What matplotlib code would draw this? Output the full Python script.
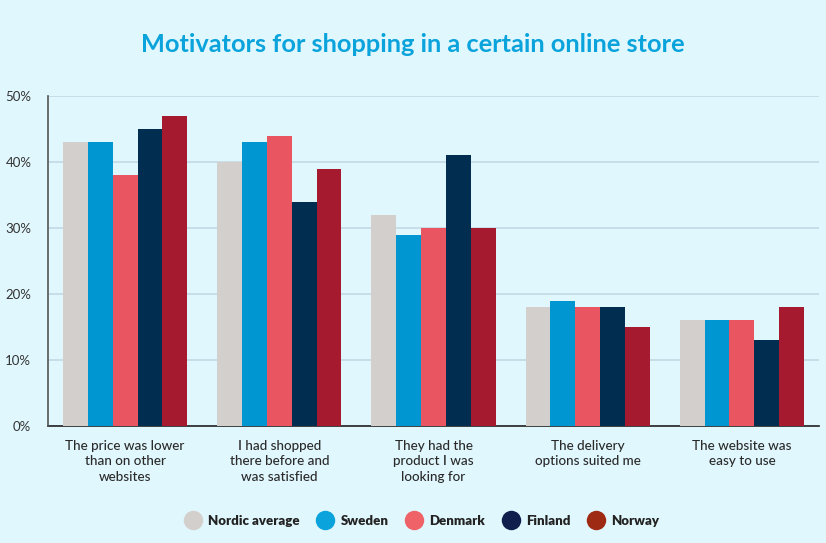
import matplotlib
matplotlib.use("Agg")
import matplotlib.pyplot as plt
import numpy as np
from matplotlib.lines import Line2D

categories = [
    "The price was lower\nthan on other\nwebsites",
    "I had shopped\nthere before and\nwas satisfied",
    "They had the\nproduct I was\nlooking for",
    "The delivery\noptions suited me",
    "The website was\neasy to use",
]
series_names = ["Nordic average", "Sweden", "Denmark", "Finland", "Norway"]
nordic = [43, 40, 32, 18, 16]
sweden = [43, 43, 29, 19, 16]
denmark = [38, 44, 30, 18, 16]
finland = [45, 34, 41, 18, 13]
norway = [47, 39, 30, 15, 18]
yticks = [0, 10, 20, 30, 40, 50]
ytick_labels = ["0%", "10%", "20%", "30%", "40%", "50%"]

bar_colors = ["#D3CFCC", "#0096D2", "#E95661", "#002D50", "#A51A2F"]
legend_colors = ["#D3CFCC", "#0AA3DC", "#EE6268", "#0F1E4D", "#9E2A14"]
bg = "#E0F7FD"
font = "Lato"

fig = plt.figure(figsize=(8.26, 5.43), dpi=100, facecolor=bg)
ax = fig.add_axes([48/826, 1-426/543, (819-48)/826, (426-96)/543])
ax.set_facecolor(bg)

data = [nordic, sweden, denmark, finland, norway]
x = np.arange(len(categories))
w = 0.161
for i, vals in enumerate(data):
    ax.bar(x + (i-2)*w, vals, width=w, color=bar_colors[i], zorder=3, linewidth=0)

ax.set_xlim(-0.5, 4.5)
ax.set_ylim(0, 50)
ax.set_yticks(yticks)
ax.set_yticklabels(ytick_labels, fontsize=9.5, color="#333333", family=font)
ax.set_xticks(x)
ax.set_xticklabels(categories, fontsize=9.7, color="#2a2a2a", family=font,
                   linespacing=1.35, va="top", fontweight="medium")
ax.tick_params(axis="both", length=0)
ax.tick_params(axis="x", pad=10)
ax.tick_params(axis="y", pad=12)
ax.grid(axis="y", color="#C3DAE4", linewidth=1.2, zorder=0)
for s in ["top", "right"]:
    ax.spines[s].set_visible(False)
ax.spines["left"].set_color("#555555")
ax.spines["left"].set_linewidth(1.2)
ax.spines["bottom"].set_color("#222222")
ax.spines["bottom"].set_linewidth(1.2)
ax.spines["bottom"].set_zorder(2)

fig.text(0.5, 1-44/543, "Motivators for shopping in a certain online store",
         ha="center", va="center", fontsize=18.3, fontweight="bold",
         color="#0AA3DC", family=font)

handles = [Line2D([0], [0], marker="o", linestyle="", markersize=14,
                  markerfacecolor=c, markeredgewidth=0) for c in legend_colors]
fig.legend(handles, series_names, loc="center", bbox_to_anchor=(0.508, 1-521/543),
           ncol=5, frameon=False, handletextpad=0.15, columnspacing=0.95,
           prop={"family": font, "weight": "heavy", "size": 9.5},
           labelcolor="#222222")

fig.savefig("out.png", dpi=100, facecolor=bg)
